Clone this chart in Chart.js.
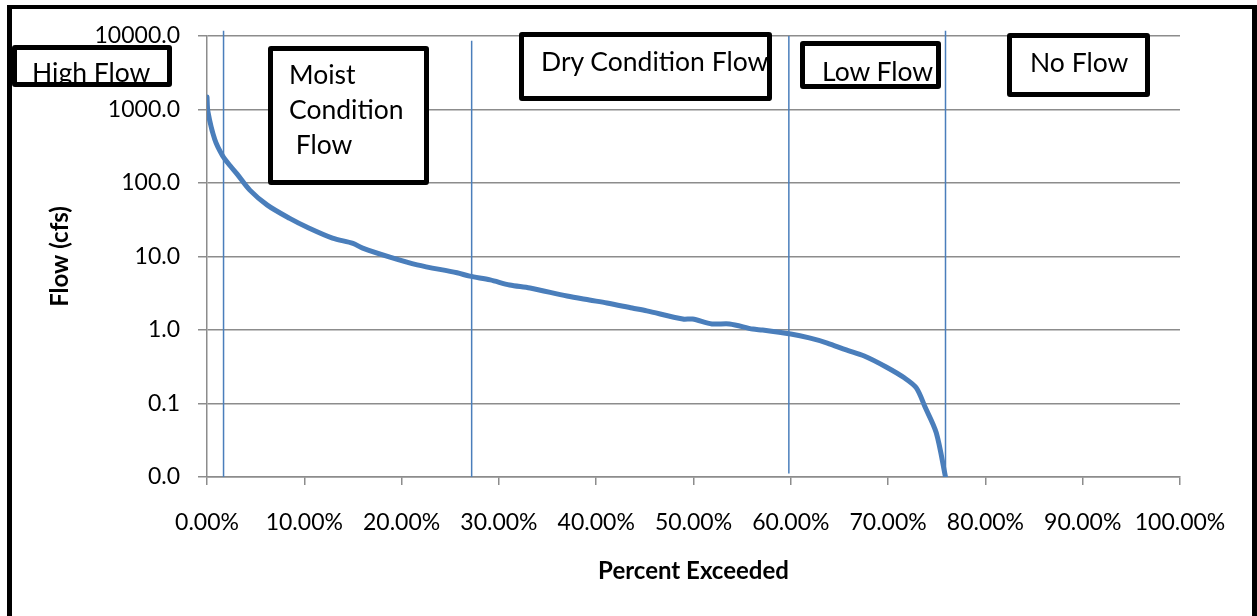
<!DOCTYPE html>
<html>
<head>
<meta charset="utf-8">
<title>Flow Duration Curve</title>
<script src="https://cdn.jsdelivr.net/npm/chart.js@4.4.1/dist/chart.umd.min.js"></script>
<style>
  html, body { margin: 0; padding: 0; background: #fff; overflow: hidden; }
  #wrap { position: relative; width: 1257px; height: 616px; }
  #frame {
    position: absolute; left: 7px; top: 5px; width: 1250px; height: 700px;
    box-sizing: border-box; border: 4px solid #000; border-left-width: 5px; border-right-width: 5px;
    pointer-events: none;
  }
  canvas { position: absolute; left: 0; top: 0; }
  .note {
    position: absolute; background: #fff; box-sizing: border-box;
    font-family: Lato, sans-serif; font-size: 26.5px; color: #000; white-space: pre;
  }
  .note span { position: absolute; line-height: 27px; }
  .note::after {
    content: ''; position: absolute; left: 0; top: 0; right: 0; bottom: 0;
    border: 5px solid #000; border-radius: 3px;
  }
</style>
</head>
<body>
<div id="wrap">
  <canvas id="fdc" width="1257" height="616"></canvas>
  <div id="frame"></div>
  <div class="note" style="left:12px;top:45px;width:160px;height:42px;"><span style="left:20px;top:14px;">High Flow</span></div>
  <div class="note" style="left:268px;top:46px;width:161px;height:139px;"><span style="left:21px;top:11px;line-height:35px;">Moist
Condition
 Flow</span></div>
  <div class="note" style="left:519px;top:32px;width:253px;height:69px;"><span style="left:22px;top:16px;">Dry Condition Flow</span></div>
  <div class="note" style="left:800px;top:41px;width:141px;height:48px;"><span style="left:22px;top:17px;">Low Flow</span></div>
  <div class="note" style="left:1007px;top:33px;width:143px;height:64px;"><span style="left:23px;top:16px;">No Flow</span></div>
</div>
<script>
// percent of time exceeded vs. flow (cfs)
const exceedPct = [0, 0.1, 0.8, 1.6, 2.4, 3.1, 4.4, 6.2, 8.5, 10.3, 12.9, 15.0, 16.0, 18.8, 21.6, 25.7, 27.0,
  29.1, 31.1, 33.2, 37.0, 39.3, 41.1, 43.7, 45.2, 48.9, 49.9, 51.9, 53.7, 56.1, 57.1, 60.0, 61.9,
  63.75, 65.7, 67.55, 69.8, 71.7, 72.9, 73.8, 74.95, 75.9];
const flowCfs = [1480, 925, 390, 235, 170, 132, 80, 50, 33, 25, 17.8, 15.1, 13, 9.8, 7.7, 6.0, 5.4,
  4.8, 4.1, 3.73, 2.90, 2.56, 2.33, 1.99, 1.82, 1.41, 1.41, 1.21, 1.21, 1.03, 1.0, 0.88, 0.78,
  0.665, 0.535, 0.443, 0.314, 0.222, 0.163, 0.0896, 0.04, 0.01];

// flow zone boundaries
const dividerPct = [1.7, 27.2, 59.8, 75.9];
const dividerTop = [11800, 8630, 10000, 11800];
const dividerBottom = [0.01, 0.01, 0.0112, 0.01];

const yTicks = [0.01, 0.1, 1, 10, 100, 1000, 10000];
const xTickStep = 10;

const lineBlue = '#4a7ebb';
const gridGray = '#8c8c8c';

Chart.defaults.font.family = 'Lato, sans-serif';
Chart.defaults.color = '#000';

const curve = exceedPct.map((p, i) => ({ x: p, y: flowCfs[i] }));

const datasets = [{
  data: curve,
  borderColor: lineBlue,
  borderWidth: 5,
  pointRadius: 0,
  tension: 0.3,
  borderJoinStyle: 'round',
  borderCapStyle: 'round'
}];

dividerPct.forEach((p, i) => {
  datasets.push({
    data: [{ x: p, y: dividerBottom[i] }, { x: p, y: dividerTop[i] }],
    borderColor: lineBlue,
    borderWidth: 1.5,
    pointRadius: 0,
    clip: false
  });
});

new Chart(document.getElementById('fdc'), {
  type: 'line',
  data: { datasets },
  options: {
    responsive: false,
    animation: false,
    layout: { padding: { left: 0, top: 36, right: 77, bottom: 0 } },
    plugins: { legend: { display: false }, tooltip: { enabled: false } },
    scales: {
      x: {
        type: 'linear',
        min: 0, max: 100,
        afterFit: s => { s.height = 139; },
        ticks: {
          stepSize: xTickStep,
          padding: 24,
          maxRotation: 0,
          autoSkip: false,
          font: { size: 23 },
          callback: v => v.toFixed(2) + '%'
        },
        grid: { drawOnChartArea: false, drawTicks: true, tickLength: 8, color: gridGray, lineWidth: 1.5 },
        border: { color: gridGray, width: 1.5 },
        title: {
          display: true, text: 'Percent Exceeded',
          font: { size: 24, weight: 'bold' },
          padding: { top: 0, bottom: 30 }
        }
      },
      y: {
        type: 'logarithmic',
        min: 0.01, max: 10000,
        afterFit: s => { s.width = 207; },
        afterBuildTicks: s => { s.ticks = yTicks.map(v => ({ value: v })); },
        ticks: {
          padding: 18,
          font: { size: 23 },
          callback: v => Number(v).toFixed(1)
        },
        grid: { drawTicks: true, tickLength: 9, color: gridGray, lineWidth: 1.5 },
        border: { color: gridGray, width: 1.5 },
        title: {
          display: true, text: 'Flow (cfs)',
          font: { size: 24, weight: 'bold' },
          padding: { top: 46, bottom: 0 }
        }
      }
    }
  }
});
</script>
</body>
</html>
